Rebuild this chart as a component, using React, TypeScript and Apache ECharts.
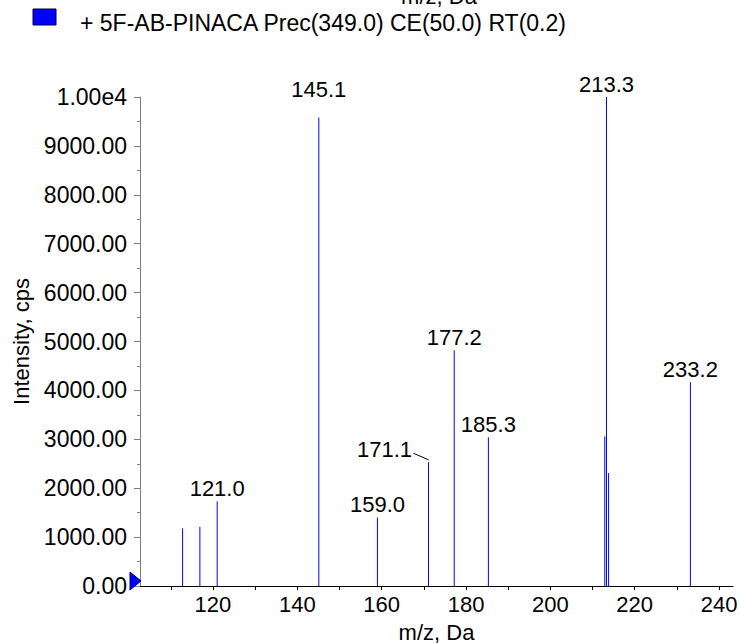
import React, { useEffect, useRef } from "react";
import * as echarts from "echarts";

const mzValues = [112.8, 116.9, 121.0, 145.1, 159.0, 171.1, 177.2, 185.3, 212.9, 213.3, 213.8, 233.2];
const intensities = [1180, 1210, 1730, 9580, 1400, 2530, 4820, 3040, 3060, 10000, 2310, 4170];
const peakLabels = ["", "", "121.0", "145.1", "159.0", "171.1", "177.2", "185.3", "", "213.3", "", "233.2"];
const xTickValues = [110, 120, 130, 140, 150, 160, 170, 180, 190, 200, 210, 220, 230, 240];
const xLabelValues = [120, 140, 160, 180, 200, 220, 240];
const legendText = "+ 5F-AB-PINACA Prec(349.0) CE(50.0) RT(0.2)";
const xName = "m/z, Da";
const yName = "Intensity, cps";

const FONT = "'Liberation Sans', Arial, sans-serif";
const X_MIN = 102.7;
const X_MAX = 243.3;

// label placement styles (offsets relative to the top of the peak line)
const labelOffsets: Record<string, { dx: number; dy: number; align: string; leader?: boolean }> = {
  "145.1": { dx: 0, dy: -28, align: "center" },
  "171.1": { dx: -16.5, dy: -12.5, align: "right", leader: true },
};

export default function App() {
  const ref = useRef<HTMLDivElement>(null);
  useEffect(() => {
    if (!ref.current) return;
    const chart = echarts.init(ref.current, undefined, { renderer: "svg" });
    const data = mzValues.map((m, i) => [m, intensities[i]]);
    chart.setOption({
      animation: false,
      backgroundColor: "#ffffff",
      textStyle: { fontFamily: FONT },
      grid: { left: 140, right: 7, top: 97, bottom: 57, containLabel: false, outerBoundsMode: "none" },
      xAxis: {
        type: "value",
        min: X_MIN,
        max: X_MAX,
        name: xName,
        nameLocation: "middle",
        nameGap: 35,
        nameTextStyle: { fontSize: 22, color: "#000", fontFamily: FONT },
        axisLine: { show: true, onZero: false, lineStyle: { color: "#000", width: 1 } },
        axisTick: { show: true, length: 4, customValues: xTickValues, lineStyle: { color: "#000" } },
        axisLabel: {
          customValues: xLabelValues,
          fontSize: 22,
          color: "#000",
          fontFamily: FONT,
          margin: 7,
          formatter: (v: number) => String(Math.round(v)),
        },
        splitLine: { show: false },
      },
      yAxis: {
        type: "value",
        min: 0,
        max: 10000,
        interval: 1000,
        name: yName,
        nameLocation: "middle",
        nameGap: 106,
        nameRotate: 90,
        nameTextStyle: { fontSize: 22, color: "#000", fontFamily: FONT },
        axisLine: { show: true, lineStyle: { color: "#808080", width: 1 } },
        axisTick: { show: true, length: 6, lineStyle: { color: "#808080" } },
        minorTick: { show: true, splitNumber: 2, length: 3, lineStyle: { color: "#808080" } },
        axisLabel: {
          fontSize: 23,
          color: "#000",
          fontFamily: FONT,
          margin: 13,
          formatter: (v: number) => (v >= 10000 ? "1.00e4" : v.toFixed(2)),
        },
        splitLine: { show: false },
      },
      series: [
        {
          type: "custom",
          clip: false,
          data,
          renderItem: (params: any, api: any) => {
            const x = api.value(0);
            const y = api.value(1);
            const top = api.coord([x, y]);
            const base = api.coord([x, 0]);
            const children: any[] = [
              {
                type: "line",
                shape: { x1: top[0], y1: base[1], x2: top[0], y2: top[1] },
                style: { stroke: "#0000ff", lineWidth: 1 },
              },
            ];
            const lbl = peakLabels[params.dataIndex];
            if (lbl) {
              const s = labelOffsets[lbl] || { dx: 0, dy: -13, align: "center" };
              children.push({
                type: "text",
                x: top[0] + s.dx,
                y: top[1] + s.dy,
                style: {
                  text: lbl,
                  align: s.align,
                  verticalAlign: "middle",
                  fontSize: 22,
                  fontFamily: FONT,
                  fill: "#000",
                },
              });
              if (s.leader) {
                children.push({
                  type: "line",
                  shape: { x1: top[0] - 15, y1: top[1] - 9, x2: top[0], y2: top[1] - 2.5 },
                  style: { stroke: "#000", lineWidth: 1 },
                });
              }
            }
            return { type: "group", children };
          },
        },
      ],
      graphic: [
        {
          id: "topName",
          type: "text",
          x: 439,
          y: -4,
          style: { text: xName, align: "center", verticalAlign: "middle", fontSize: 22, fontFamily: FONT, fill: "#000" },
        },
        {
          id: "legendBox",
          type: "rect",
          shape: { x: 33, y: 9, width: 23, height: 16 },
          style: { fill: "#0000ff", stroke: "#000033", lineWidth: 1 },
        },
        {
          id: "legendText",
          type: "text",
          x: 80,
          y: 23,
          style: { text: legendText, align: "left", verticalAlign: "middle", fontSize: 23, fontFamily: FONT, fill: "#000" },
        },
      ],
    });
    const o = chart.convertToPixel({ gridIndex: 0 }, [X_MIN, 0]) as number[];
    if (o) {
      chart.setOption({
        graphic: [
          {
            id: "originMarker",
            type: "polygon",
            shape: {
              points: [
                [o[0] - 10, o[1] - 14],
                [o[0] - 10, o[1] + 4],
                [o[0] + 1, o[1] - 5],
              ],
            },
            style: { fill: "#0000ff", stroke: "#000066", lineWidth: 1 },
            z: 10,
          },
        ],
      });
    }
    return () => chart.dispose();
  }, []);
  return <div ref={ref} style={{ position: "fixed", left: 0, top: 0, width: 740, height: 643 }} />;
}
